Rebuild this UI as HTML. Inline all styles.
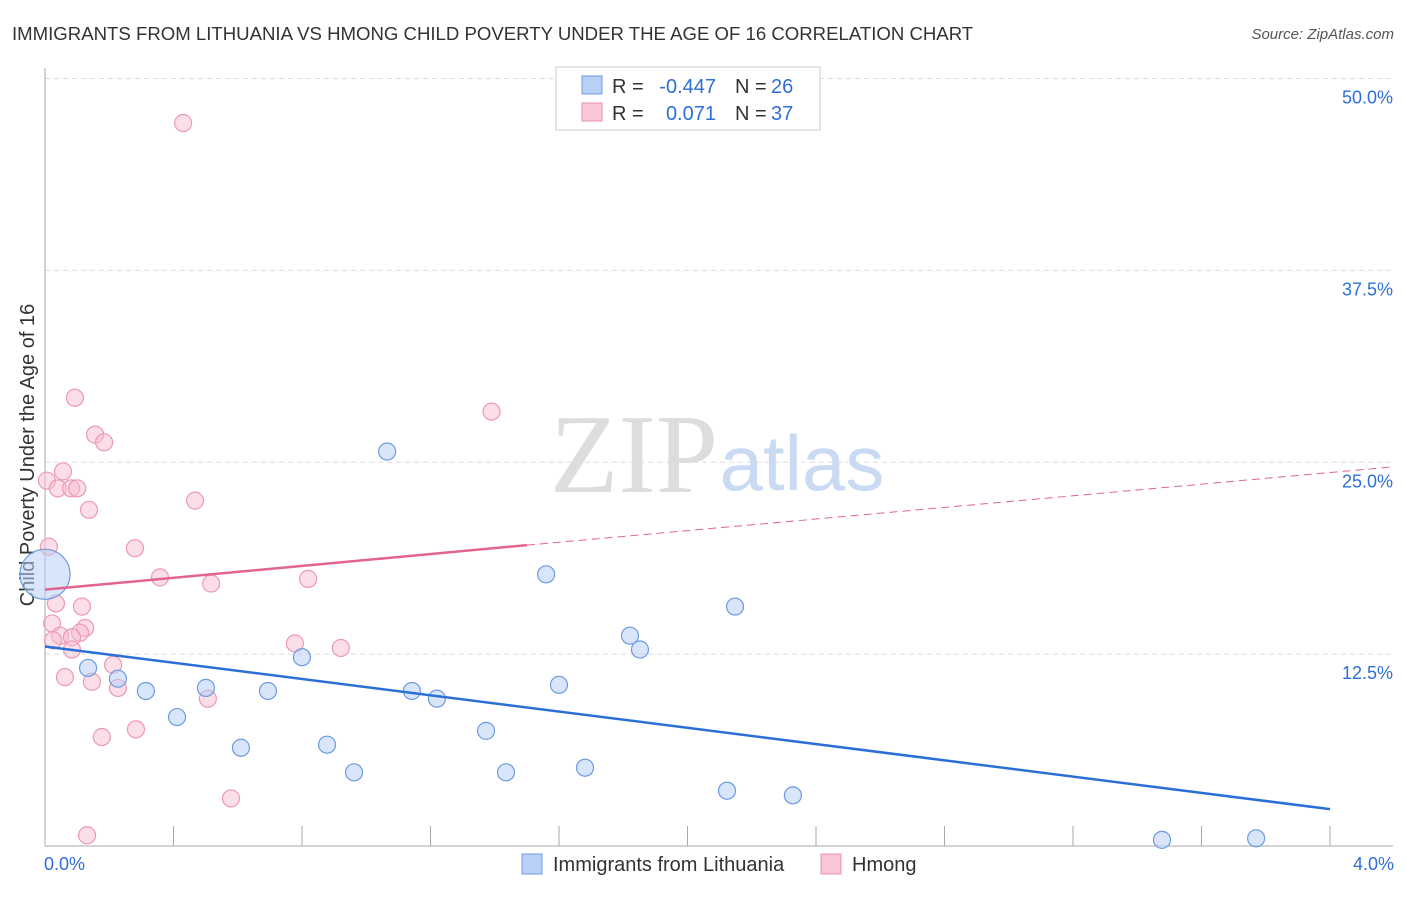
<!DOCTYPE html>
<html><head><meta charset="utf-8"><style>
body{margin:0;background:#fff;font-family:"Liberation Sans",sans-serif}
</style></head><body>
<svg id="chart" width="1406" height="892" xmlns="http://www.w3.org/2000/svg">
<text x="12" y="40" font-size="18.6" fill="#333">IMMIGRANTS FROM LITHUANIA VS HMONG CHILD POVERTY UNDER THE AGE OF 16 CORRELATION CHART</text>
<text x="1394" y="39" font-size="15" fill="#555" font-style="italic" text-anchor="end">Source: ZipAtlas.com</text>
<text x="634" y="492" font-size="112" fill="#ddd" font-family="Liberation Serif,serif" text-anchor="middle">ZIP</text>
<text x="802" y="490" font-size="78" fill="#c9daf2" text-anchor="middle">atlas</text>
<text transform="translate(34,455) rotate(-90)" font-size="20" fill="#333" text-anchor="middle">Child Poverty Under the Age of 16</text>
<g id="grid"></g><g id="axes"></g><g id="marks"></g>
<g>
<rect x="556" y="67" width="264" height="63" fill="#fff" stroke="#ccc"/>
<rect x="582" y="76" width="20" height="18" fill="#b8d0f5" stroke="#6d9be0"/>
<rect x="582" y="103" width="20" height="18" fill="#f8c6d4" stroke="#e890ab"/>
<text x="612" y="93" font-size="20" fill="#333">R =</text>
<text x="716" y="93" font-size="20" fill="#2e6fd6" text-anchor="end">-0.447</text>
<text x="735" y="93" font-size="20" fill="#333">N =</text>
<text x="771" y="93" font-size="20" fill="#2e6fd6">26</text>
<text x="612" y="120" font-size="20" fill="#333">R =</text>
<text x="716" y="120" font-size="20" fill="#2e6fd6" text-anchor="end">0.071</text>
<text x="735" y="120" font-size="20" fill="#333">N =</text>
<text x="771" y="120" font-size="20" fill="#2e6fd6">37</text>
</g>
<g>
<rect x="522" y="854" width="20" height="20" fill="#b8d0f5" stroke="#6d9be0"/>
<text x="553" y="871" font-size="20" fill="#333">Immigrants from Lithuania</text>
<rect x="821" y="854" width="20" height="20" fill="#f8c6d4" stroke="#e890ab"/>
<text x="852" y="871" font-size="20" fill="#333">Hmong</text>
</g>
</svg>
<script>
const yTicks=[12.5,25,37.5,50];
const yTickLabels=["12.5%","25.0%","37.5%","50.0%"];
const xTickLabels=["0.0%","4.0%"];
const blueX=[1.065,0,1.56,2.148,1.821,1.852,0.134,0.8,0.227,0.314,0.501,0.694,1.142,1.22,1.6,0.411,1.373,0.61,0.878,0.962,1.435,1.681,2.123,2.328,3.477,3.77];
const blueY=[25.7,17.7,17.7,15.6,13.7,12.8,11.6,12.3,10.9,10.1,10.3,10.1,10.1,9.6,10.5,8.4,7.5,6.4,6.6,4.8,4.8,5.1,3.6,3.3,0.4,0.5];
const pinkX=[0.43,0.093,1.39,0.156,0.184,0.056,0.006,0.04,0.081,0.1,0.137,0.467,0.012,0.28,0.358,0.517,0.819,0.034,0.115,0.022,0.125,0.109,0.047,0.084,0.025,0.084,0.778,0.921,0.212,0.062,0.146,0.227,0.507,0.177,0.283,0.579,0.131];
const pinkY=[47.1,29.2,28.3,26.8,26.3,24.4,23.8,23.3,23.3,23.3,21.9,22.5,19.5,19.4,17.5,17.1,17.4,15.8,15.6,14.5,14.2,13.9,13.7,13.6,13.4,12.8,13.2,12.9,11.8,11.0,10.7,10.3,9.6,7.1,7.6,3.1,0.7];
const blueTrend=[13.0,2.4];
const pinkTrend=[16.7,19.6,24.7];
const X=v=>45+v*321.25, Y=v=>846-v*15.35;
const NS="http://www.w3.org/2000/svg";
function mk(tag,attrs,parent){const e=document.createElementNS(NS,tag);for(const k in attrs)e.setAttribute(k,attrs[k]);document.getElementById(parent).appendChild(e);return e;}
yTicks.forEach((t,i)=>{
 const l=mk('line',{x1:45,x2:1393,y1:Y(t),y2:Y(t),stroke:'#ddd','stroke-dasharray':'5,4'},'grid');
 
 
 const tx=mk('text',{x:1393,y:Y(t)+25,'font-size':18,fill:'#2e6fd6','text-anchor':'end'},'grid');
 tx.textContent=yTickLabels[i];
 
 
});
mk('line',{x1:45,x2:45,y1:68,y2:846,stroke:'#aaa'},'axes');
mk('line',{x1:45,x2:1393,y1:846,y2:846,stroke:'#aaa'},'axes');
for(let i=0;i<=10;i++){const t=mk('line',{x1:X(i*0.4),x2:X(i*0.4),y1:826,y2:846,stroke:'#aaa'},'axes');
 
 }
[[0,'start',44],[4,'end',1394]].forEach((d,i)=>{const t=mk('text',{x:d[2],y:870,'font-size':18,fill:'#2e6fd6','text-anchor':d[1]},'axes');t.textContent=xTickLabels[i];
 
 });
pinkX.forEach((x,i)=>{const c=mk('circle',{cx:X(x),cy:Y(pinkY[i]),r:8.5,fill:'rgba(248,190,208,0.5)',stroke:'#eb9ab3','stroke-width':1.2},'marks');
 
 });
blueX.forEach((x,i)=>{const c=mk('circle',{cx:X(x),cy:Y(blueY[i]),r:i==1?25:8.5,fill:'rgba(184,208,245,0.55)',stroke:'#6d9be0','stroke-width':1.2},'marks');
 
 });
const bl=mk('line',{x1:X(0),y1:Y(blueTrend[0]),x2:X(4),y2:Y(blueTrend[1]),stroke:'#2a6fd8','stroke-width':2.5},'marks');


const pl=mk('line',{x1:X(0),y1:Y(pinkTrend[0]),x2:X(1.5),y2:Y(pinkTrend[1]),stroke:'#e2648f','stroke-width':2.5},'marks');


const pd=mk('line',{x1:X(1.5),y1:Y(pinkTrend[1]),x2:X(4.196),y2:Y(pinkTrend[2]),stroke:'#e2648f','stroke-width':1,'stroke-dasharray':'8,5'},'marks');


</script>
</body></html>
